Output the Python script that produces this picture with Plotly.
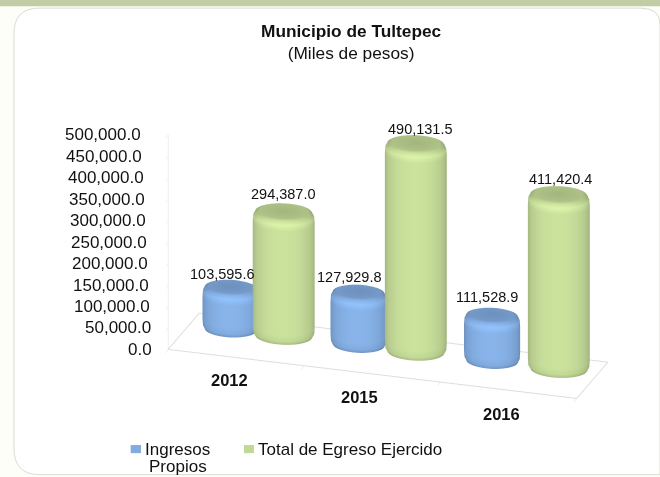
import numpy as np
import plotly.graph_objects as go

years = ["2012", "2015", "2016"]
ingresos = [103595.6, 127929.8, 111528.9]
egresos = [294387.0, 490131.5, 411420.4]
z_ticks = [0, 50000, 100000, 150000, 200000, 250000, 300000, 350000, 400000, 450000, 500000]

BLUE = (130, 172, 224)
GREEN = (194, 216, 150)
FONT = "Liberation Sans, Arial, sans-serif"
GRID = "#DEDEDE"
INK = "#111111"

# horizontal slots of the cylinders along the category axis (axis units)
blue_slot = [0.31, 1.25, 2.23]
green_slot = [0.70, 1.67, 2.72]
depth = 0.65


def cylinder(cx, cy, rx, ry, h, rgb, name, n=72):
    bevel = 26000
    zs = [0, bevel * 0.12, bevel * 0.45, bevel, h - bevel, h - bevel * 0.45, h - bevel * 0.12, h, h]
    rs = [0.78, 0.92, 0.985, 1, 1, 0.985, 0.92, 0.78, 0.0]
    ring_shade = [0.74, 0.84, 0.96, 1.0, 1.0, 1.08, 1.0, 0.90, 0.84]
    th = np.linspace(0, 2 * np.pi, n, endpoint=False)
    X, Y, Z, C = [], [], [], []
    for idx, (z, r, rs_) in enumerate(zip(zs, rs, ring_shade)):
        X += list(cx + rx * r * np.cos(th))
        Y += list(cy + ry * r * np.sin(th))
        Z += [z] * n
        for t in th:
            facing = max(0.0, np.cos(t + np.pi / 2 - 0.2))
            shade = rs_ * (0.78 + 0.27 * facing ** 0.8) if idx < 7 else rs_
            C.append("rgb(%d,%d,%d)" % tuple(min(255, int(c * shade)) for c in rgb))
    I, J, K = [], [], []
    for l in range(len(zs) - 1):
        for t in range(n):
            a = l * n + t
            b = l * n + (t + 1) % n
            c = a + n
            d = b + n
            I += [a, a]
            J += [b, d]
            K += [d, c]
    return go.Mesh3d(
        x=X, y=Y, z=Z, i=I, j=J, k=K, vertexcolor=C, name=name, flatshading=False,
        lighting=dict(ambient=1.0, diffuse=0.0, specular=0.0, roughness=1.0, fresnel=0.0),
        hoverinfo="name+z", showscale=False,
    )


fig = go.Figure()
for i, y in enumerate(years):
    fig.add_trace(cylinder(blue_slot[i], depth, 0.20, 0.22, ingresos[i], BLUE, "Ingresos Propios"))
    fig.add_trace(cylinder(green_slot[i], depth, 0.22, 0.25, egresos[i], GREEN, "Total de Egreso Ejercido"))

fig.add_trace(go.Scatter3d(x=[0, 3, 3, 0, 0], y=[0, 0, 1, 1, 0], z=[0] * 5, mode="lines",
                           line=dict(color=GRID, width=2), hoverinfo="skip"))

annots = []
blue_shift = [(-8, 12), (-9, 14), (-5, 17)]
green_shift = [(0, 17), (5, 14), (2, 15)]
year_shift = [(-7, -23), (-13, -23), (-7, -24)]
for i in range(3):
    annots.append(dict(x=blue_slot[i], y=depth, z=ingresos[i], text=f"{ingresos[i]:,.1f}", showarrow=False,
                       xshift=blue_shift[i][0], yshift=blue_shift[i][1],
                       font=dict(size=14.5, color=INK, family=FONT)))
    annots.append(dict(x=green_slot[i], y=depth, z=egresos[i], text=f"{egresos[i]:,.1f}", showarrow=False,
                       xshift=green_shift[i][0], yshift=green_shift[i][1],
                       font=dict(size=14.5, color=INK, family=FONT)))
    annots.append(dict(x=i + 0.5, y=0, z=0, text=f"<b>{years[i]}</b>", showarrow=False,
                       xshift=year_shift[i][0], yshift=year_shift[i][1],
                       font=dict(size=16.5, color=INK, family=FONT)))
for v in z_ticks:
    annots.append(dict(x=0, y=0, z=v, text=f"{v:,.1f}", showarrow=False, xanchor="right",
                       xshift=-14 - 11 * v / 500000, font=dict(size=17, color=INK, family=FONT)))

D = 2.15
axis_common = dict(showbackground=False, showspikes=False, zeroline=False, title=dict(text=""))
fig.update_layout(
    width=660, height=477, margin=dict(l=0, r=0, t=0, b=0),
    paper_bgcolor="#FDFEF8", showlegend=False,
    font=dict(family=FONT, color=INK),
    scene=dict(
        domain=dict(x=[0.176, 1.0], y=[0.059, 0.899]),
        aspectmode="manual", aspectratio=dict(x=2.14, y=0.508, z=1.154),
        xaxis=dict(axis_common, range=[0, 3], tickmode="array", tickvals=[0, 1, 2, 3], showticklabels=False,
                   showgrid=False, showline=True, linecolor=GRID, ticks="outside", tickcolor=GRID, ticklen=3),
        yaxis=dict(axis_common, range=[0, 1], showticklabels=False, showgrid=False, showline=False, ticks=""),
        zaxis=dict(axis_common, range=[0, 500000], tickmode="array", tickvals=z_ticks, showticklabels=False,
                   showgrid=False, showline=True, linecolor=GRID, ticks="outside", tickcolor=GRID),
        camera=dict(eye=dict(x=0.283 * D, y=-0.882 * D, z=0.374 * D), center=dict(x=0, y=0, z=0),
                    up=dict(x=0, y=0, z=1), projection=dict(type="orthographic")),
        annotations=annots,
    ),
    title=dict(text="<b>Municipio de Tultepec</b><br>(Miles de pesos)", x=0.532, y=0.923, xanchor="center",
               yanchor="top", font=dict(size=17.3, color=INK, family=FONT)),
    shapes=[
        dict(type="rect", xref="paper", yref="paper", x0=0, x1=1, y0=0.987, y1=1, fillcolor="#C2CDA5", line_width=0, layer="below"),
        dict(type="path", xref="paper", yref="paper",
             path="M 0.0212 0.06 L 0.0212 0.93 Q 0.0212 0.983 0.06 0.983 L 0.97 0.983 Q 1.0 0.983 1.0 0.95 "
                  "L 1.0 0.005 L 0.06 0.005 Q 0.0212 0.005 0.0212 0.06 Z",
             fillcolor="#FFFFFF", line=dict(color="#DADDD2", width=1), layer="below"),
        dict(type="rect", xref="paper", yref="paper", x0=0.198, x1=0.2136, y0=0.05, y1=0.067, fillcolor="rgb(130,172,224)", line_width=0),
        dict(type="rect", xref="paper", yref="paper", x0=0.3697, x1=0.3848, y0=0.05, y1=0.067, fillcolor="rgb(194,216,150)", line_width=0),
    ],
    annotations=[
        dict(xref="paper", yref="paper", x=0.2167, y=0.0587, text="Ingresos", showarrow=False, xanchor="left", yanchor="middle",
             font=dict(size=17, color=INK, family=FONT)),
        dict(xref="paper", yref="paper", x=0.2227, y=0.021, text="Propios", showarrow=False, xanchor="left", yanchor="middle",
             font=dict(size=17, color=INK, family=FONT)),
        dict(xref="paper", yref="paper", x=0.3879, y=0.0587, text="Total de Egreso Ejercido", showarrow=False, xanchor="left", yanchor="middle",
             font=dict(size=17, color=INK, family=FONT)),
    ],
)
fig.write_html("out.html", config=dict(displayModeBar=False),
               post_script="document.body.style.margin='0';document.body.style.overflow='hidden';")
